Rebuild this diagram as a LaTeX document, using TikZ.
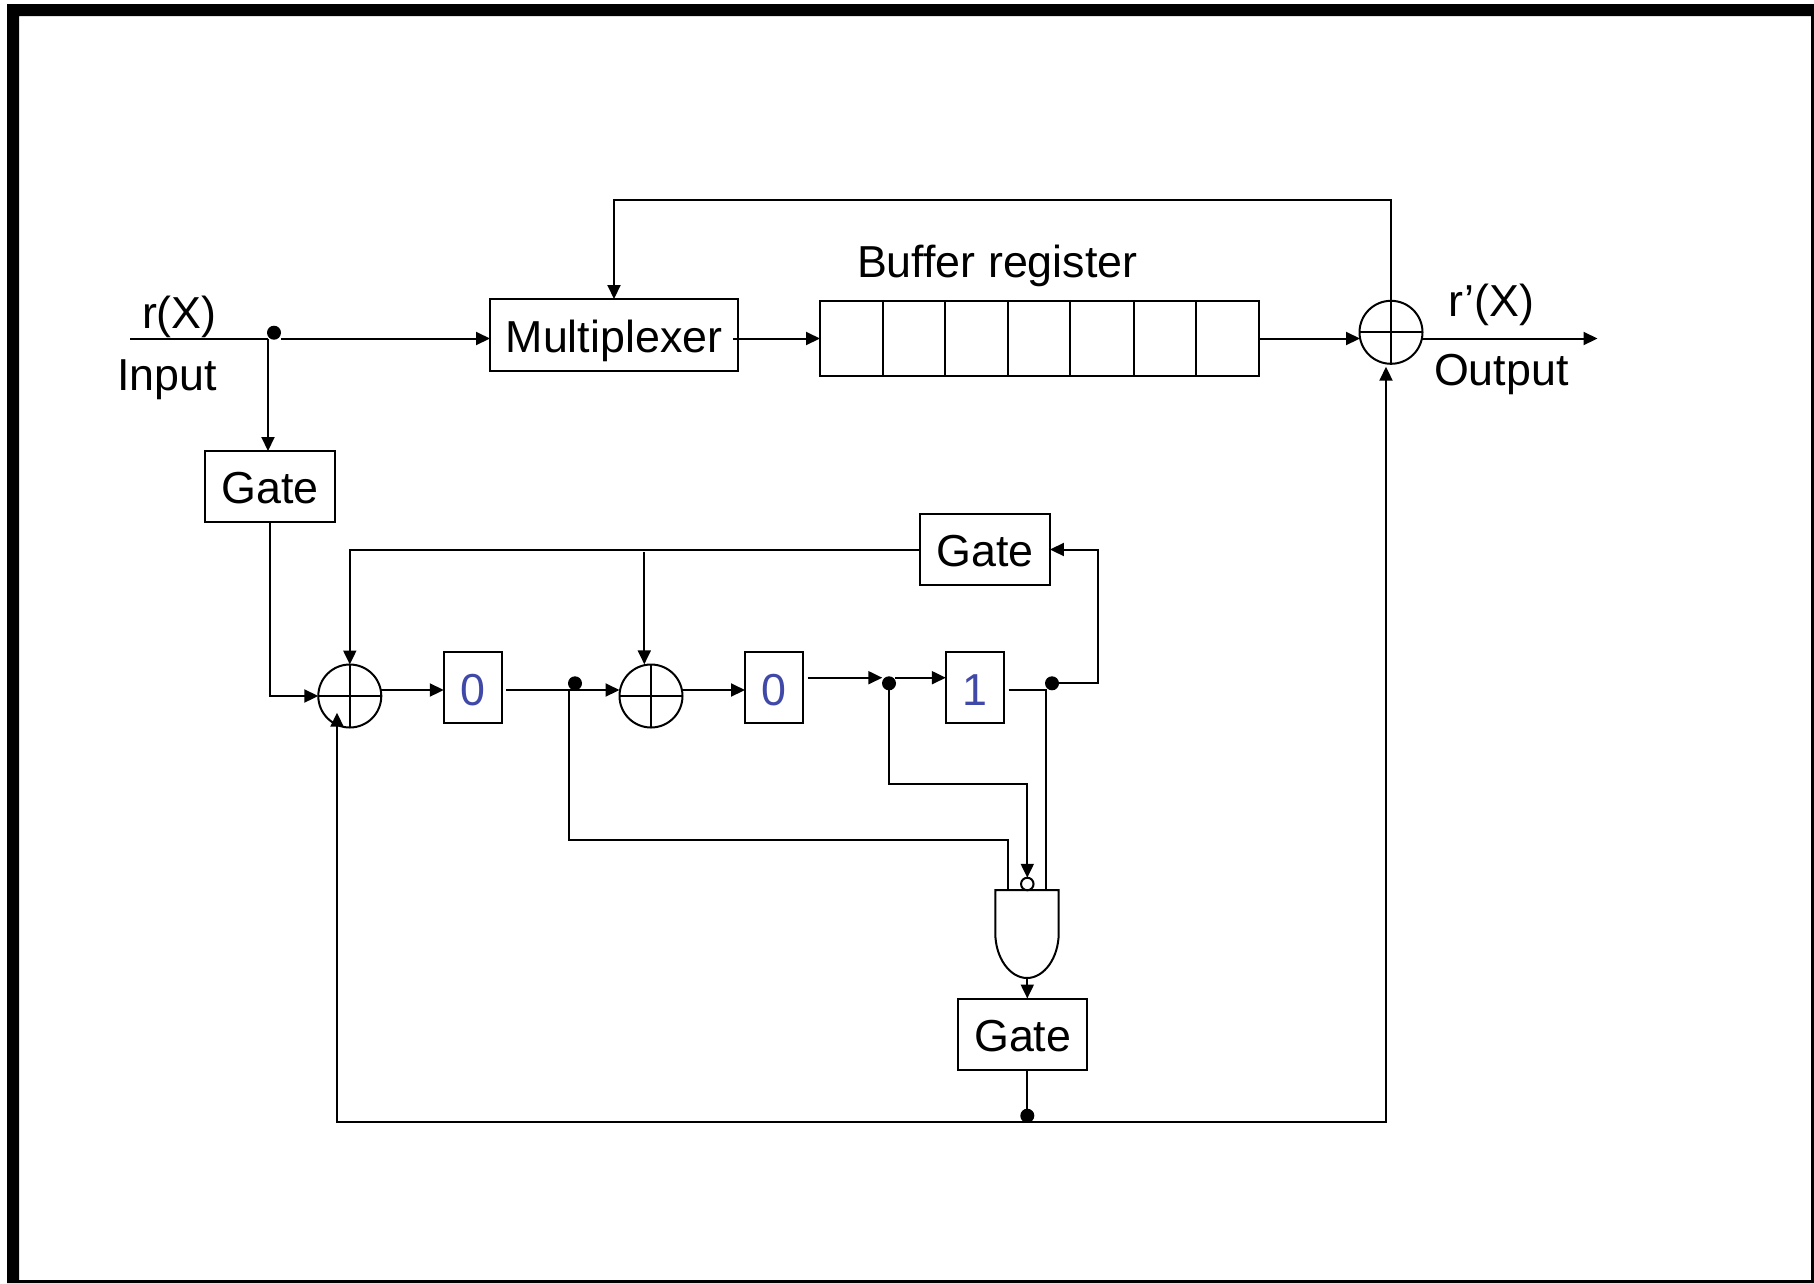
\documentclass[tikz,border=0pt]{standalone}
\usepackage{fontspec}
\setmainfont{Liberation Sans}
\usetikzlibrary{arrows.meta,calc}
\definecolor{digitblue}{HTML}{4048A8}
\tikzset{
  wire/.style={draw=black,line width=2pt},
  arr/.style={wire,-{Triangle[length=14pt,width=13pt]}},
  boxn/.style={draw=black,line width=2pt,inner sep=0pt,outer sep=0pt,text height=34pt,text depth=0pt,align=center},
  cellbox/.style={boxn,minimum width=58pt,minimum height=71pt,text=digitblue,text height=36pt},
  gatebox/.style={boxn,minimum width=129.5pt,minimum height=71pt},
  junction/.style={circle,fill=black,inner sep=0pt,outer sep=0pt,minimum size=14pt},
  xorn/.style={circle,draw=black,line width=2pt,inner sep=0pt,outer sep=0pt,minimum size=63pt},
  bubble/.style={circle,draw=black,fill=white,line width=2pt,inner sep=0pt,outer sep=0pt,minimum size=12.5pt},
  lbl/.style={inner sep=0pt,outer sep=0pt,anchor=base west}
}
\begin{document}
\begin{tikzpicture}[x=1pt,y=-1pt,font=\fontsize{44.8}{50}\selectfont]
\useasboundingbox (0,0) rectangle (1814,1283);
\fill[white] (0,0) rectangle (1814,1283);
\fill[black,even odd rule] (7,4) rectangle (1814,1283) (19,16) rectangle (1811,1280);

% boxes
\node[gatebox] (g1) at (270,486.5) {Gate};
\node[gatebox] (g2) at (985.2,549.5) {Gate};
\node[gatebox] (g3) at (1022.7,1034) {Gate};
\node[boxn,minimum width=248pt,minimum height=72pt] (mux) at (614,335) {Multiplexer};
\node[boxn,minimum width=439pt,minimum height=75.5pt] (reg) at (1039.5,338.5) {};
\node[cellbox] (c0) at (472.8,687.8) {0};
\node[cellbox] (c1) at (774,687.8) {0};
\node[cellbox] (c2) at (974.8,687.5) {1};

% register dividers
\foreach \xx in {882.7,945,1007.9,1070,1133.8,1196}
  \draw[wire] (\xx,300.7) -- (\xx,376.2);

% adders
\node[xorn] (x1) at (349.8,696) {};
\node[xorn] (x2) at (651,696) {};
\node[xorn] (x3) at (1391,332.3) {};
\draw[wire] (x1.north) -- (x1.south) (x1.west) -- (x1.east);
\draw[wire] (x2.north) -- (x2.south) (x2.west) -- (x2.east);
\draw[wire] (x3.west) -- (x3.east);

% junctions
\node[junction] (j1) at (274,332.7) {};
\node[junction] (j2) at (575,683.3) {};
\node[junction] (j3) at (889,683.3) {};
\node[junction] (j4) at (1052,683.3) {};
\node[junction] (j5) at (1027.3,1115.7) {};

% AND gate
\coordinate (andtl) at (995.3,890);
\coordinate (andtr) at (1058.7,890);
\coordinate (andbot) at (1027,978);
\draw[wire,line join=miter] (andtl) -- (andtr) -- (1058.7,933)
  .. controls (1058.7,958) and (1044,978) .. (andbot)
  .. controls (1010,978) and (995.3,958) .. (995.3,933) -- cycle;
\node[bubble] (nb) at (1027.3,884) {};

% named points
\coordinate (in) at (130,338.5);
\coordinate (ibr) at (268,338.5);
\coordinate (ires) at (281,338.5);
\coordinate (muxout) at (733,338.5);
\coordinate (regin) at (820,338.5);
\coordinate (regout) at (1259,338.5);
\coordinate (xin) at (1360,338.5);
\coordinate (xout) at (1422,338.5);
\coordinate (outend) at (1597.5,338.5);
\coordinate (fbtop) at (1391,200);
\coordinate (fbtip) at (614,299);
\coordinate (fbmid) at (1386,366.7);
\coordinate (fbt) at (1027.3,1122.3);
\coordinate (fbl) at (337,1122.3);
\coordinate (fbltip) at (337,712.7);
\coordinate (fbr) at (1386,1122.3);
\coordinate (g2tap) at (644.3,552);
\coordinate (x2tip) at (644.3,664.3);

% top row
\draw[wire] (in) -- (ibr);
\draw[arr] (ibr) -- (g1.north -| ibr);
\draw[arr] (ires) -- (mux.west |- ires);
\draw[arr] (muxout) -- (regin);
\draw[arr] (regout) -- (xin);
\draw[arr] (xout) -- (outend);
\draw[arr] (x3.south) -- (fbtop) -| (fbtip);

% feedback gate
\draw[arr] (g2.west) -| (x1.north);
\draw[arr] (g2tap) -- (x2tip);
\draw[arr] (g1.south) |- (x1.west);

% shift register row
\draw[arr] (x1.east |- c0.center) ++(0,2.2) -- (c0.west |- 0,690);
\coordinate (c0out) at (506.4,690);
\draw[arr] (c0out) -- (x2.west |- c0out);
\draw[arr] (x2.east |- c0out) -- (c1.west |- c0out);
\coordinate (c1out) at (807.5,677.7);
\draw[arr] (c1out) -- (882.3,677.7);
\coordinate (j3out) at (895,677.7);
\draw[arr] (j3out) -- (c2.west |- j3out);
\coordinate (c2out) at (1008.7,689.7);
\coordinate (c2br) at (1045.7,689.7);
\draw[wire] (c2out) -- (c2br) -- (c2br |- andtr);
\draw[arr] (j4.center) -| (1098.3,549.5) -- (g2.east);

% AND inputs
\coordinate (j2br) at (568.6,690);
\draw[wire] (j2br) |- (1008,840) -- (1008,890);
\draw[arr] (j3.center) |- (nb.north |- 0,784) -- (nb.north);
\draw[arr] (andbot -| nb) -- (g3.north -| nb);

% bottom feedback
\draw[wire] (fbt |- g3.south) -- (fbt);
\draw[arr] (fbt) -- (fbl) -- (fbltip);
\draw[arr] (fbt) -- (fbr) -- (fbmid);

% labels
\node[lbl] (rx) at (142,328) {r(X)};
\node[lbl] (inp) at (117,390) {Input};
\node[lbl] (buf) at (857,277) {Buffer register};
\node[lbl] (rpx) at (1448,316) {r’(X)};
\node[lbl] (outp) at (1434,385) {Output};
\end{tikzpicture}
\end{document}
